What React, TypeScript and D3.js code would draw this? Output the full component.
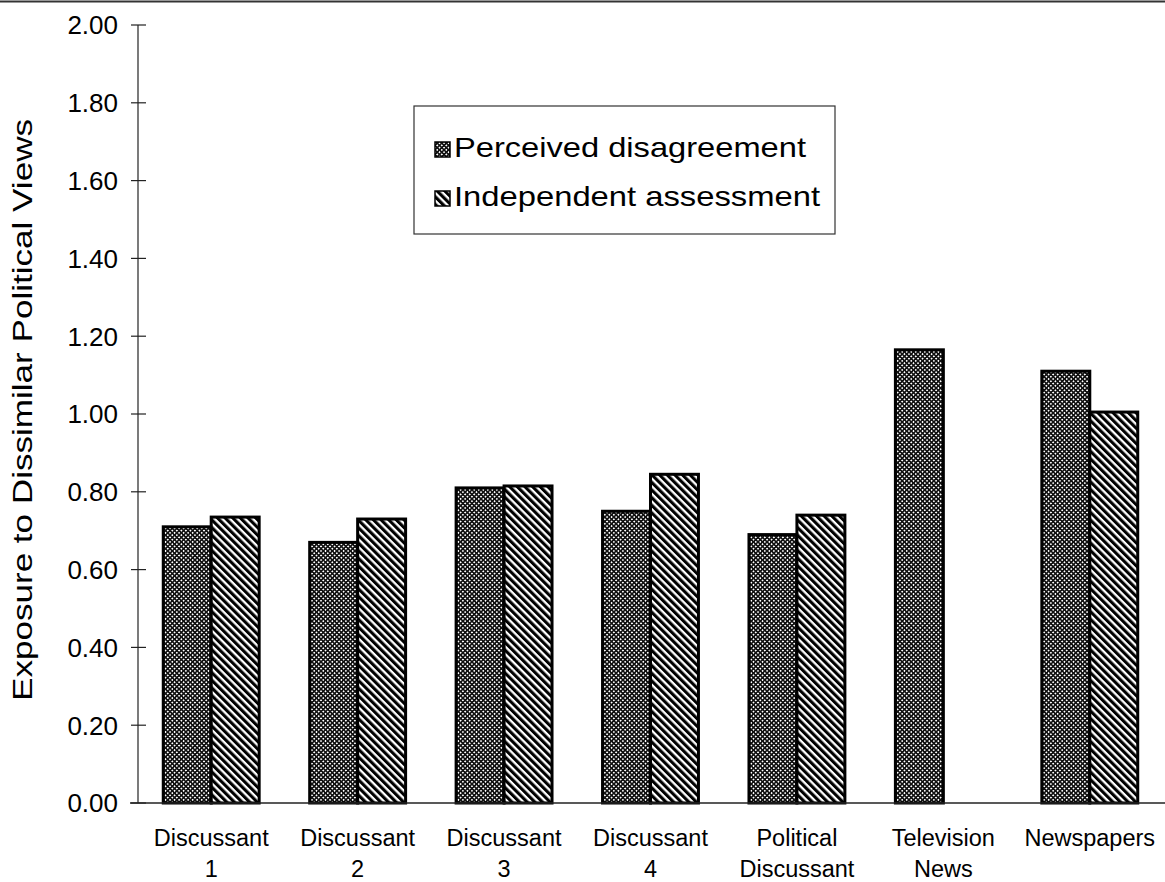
import * as d3 from "d3";

// chart data
const categories = [
  ["Discussant", "1"],
  ["Discussant", "2"],
  ["Discussant", "3"],
  ["Discussant", "4"],
  ["Political", "Discussant"],
  ["Television", "News"],
  ["Newspapers"],
];
const perceived = [0.71, 0.67, 0.81, 0.75, 0.69, 1.165, 1.11];
const independent: (number | null)[] = [0.735, 0.73, 0.815, 0.845, 0.74, null, 1.005];
const seriesNames = ["Perceived disagreement", "Independent assessment"];
const yTicks = [0, 0.2, 0.4, 0.6, 0.8, 1.0, 1.2, 1.4, 1.6, 1.8, 2.0];

const W = 1165;
const H = 882;
const FONT = "'Liberation Sans', Arial, Helvetica, sans-serif";

const App = () => {
  const axisX = 138;
  const y = d3.scaleLinear().domain([0, 2]).range([803, 25]);
  const keys = categories.map((c) => c.join(" "));
  const x = d3
    .scaleBand<string>()
    .domain(keys)
    .range([axisX, 1163])
    .paddingInner(0.345)
    .paddingOuter(0.1725);
  const xs = d3
    .scaleBand<string>()
    .domain(["p", "i"])
    .range([0, x.bandwidth()]);
  const fmt = d3.format(".2f");

  return (
    <svg
      width={W}
      height={H}
      viewBox={`0 0 ${W} ${H}`}
      style={{ position: "absolute", left: 0, top: 0, background: "#fff" }}
    >
      <defs>
        <pattern
          id="dots"
          width={3.2}
          height={3.2}
          patternUnits="userSpaceOnUse"
          patternTransform="rotate(45)"
        >
          <rect width={3.2} height={3.2} fill="#111" />
          <rect width={1.6} height={1.6} fill="#fff" />
        </pattern>
        <pattern
          id="stripes"
          width={5.4}
          height={5.4}
          patternUnits="userSpaceOnUse"
          patternTransform="rotate(-45)"
        >
          <rect width={5.4} height={5.4} fill="#fff" />
          <rect width={3.1} height={5.4} fill="#000" />
        </pattern>
      </defs>

      {/* top rule */}
      <line x1={0} x2={W} y1={1.5} y2={1.5} stroke="#333" strokeWidth={2} />

      {/* bars */}
      {keys.map((k, i) => (
        <g key={k} transform={`translate(${x(k)},0)`}>
          <rect
            x={xs("p")}
            y={y(perceived[i])}
            width={xs.bandwidth()}
            height={y(0) - y(perceived[i])}
            fill="url(#dots)"
            stroke="#000"
            strokeWidth={3}
          />
          {independent[i] != null && (
            <rect
              x={xs("i")}
              y={y(independent[i] as number)}
              width={xs.bandwidth()}
              height={y(0) - y(independent[i] as number)}
              fill="url(#stripes)"
              stroke="#000"
              strokeWidth={3}
            />
          )}
        </g>
      ))}

      {/* y axis */}
      <line x1={axisX} x2={axisX} y1={y(2)} y2={y(0)} stroke="#222" strokeWidth={1.2} />
      {yTicks.map((t) => (
        <g key={t}>
          <line x1={axisX - 7} x2={axisX + 8} y1={y(t)} y2={y(t)} stroke="#222" strokeWidth={1.2} />
          <text
            x={118}
            y={y(t)}
            dy="0.36em"
            textAnchor="end"
            fontFamily={FONT}
            fontSize={26}
            fill="#000"
          >
            {fmt(t)}
          </text>
        </g>
      ))}

      {/* x axis */}
      <line x1={130} x2={W} y1={y(0)} y2={y(0)} stroke="#222" strokeWidth={1.5} />
      {categories.map((lines, i) => (
        <text
          key={keys[i]}
          x={(x(keys[i]) as number) + x.bandwidth() / 2}
          y={846}
          textAnchor="middle"
          fontFamily={FONT}
          fontSize={23.5}
          fill="#000"
        >
          {lines.map((l, j) => (
            <tspan key={j} x={(x(keys[i]) as number) + x.bandwidth() / 2} dy={j === 0 ? 0 : 31}>
              {l}
            </tspan>
          ))}
        </text>
      ))}

      {/* y title */}
      <text
        transform={`translate(32,${(y(0) + y(2)) / 2 - 4}) rotate(-90)`}
        textAnchor="middle"
        fontFamily={FONT}
        fontSize={27}
        textLength={582}
        lengthAdjust="spacingAndGlyphs"
        fill="#000"
      >
        Exposure to Dissimilar Political Views
      </text>

      {/* legend */}
      <rect x={414} y={106} width={421} height={128} fill="#fff" stroke="#333" strokeWidth={1.2} />
      {seriesNames.map((s, i) => (
        <g key={s} transform={`translate(435,${142 + i * 49})`}>
          <rect
            width={15}
            height={15}
            fill={i === 0 ? "url(#dots)" : "url(#stripes)"}
            stroke="#000"
            strokeWidth={1.5}
          />
          <text
            x={19}
            y={15}
            fontFamily={FONT}
            fontSize={28}
            textLength={i === 0 ? 352 : 366}
            lengthAdjust="spacingAndGlyphs"
            fill="#000"
          >
            {s}
          </text>
        </g>
      ))}
    </svg>
  );
};

export default App;
